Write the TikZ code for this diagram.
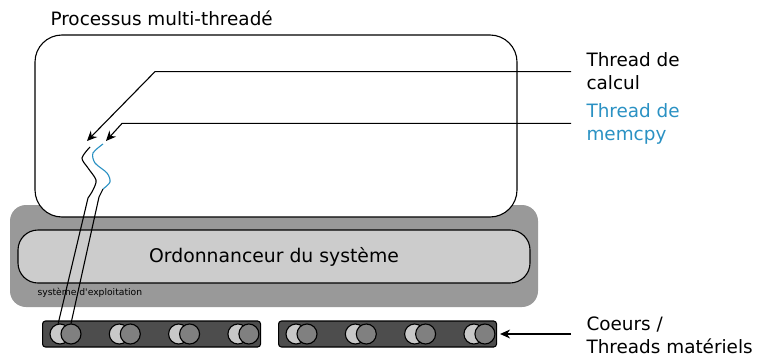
\documentclass[tikz,border=0pt]{standalone}
\usepackage{fontspec}
\setmainfont{DejaVu Sans}
\usetikzlibrary{arrows.meta,positioning}
\definecolor{osgray}{RGB}{153,153,153}
\definecolor{schedgray}{RGB}{204,204,204}
\definecolor{bargray}{RGB}{77,77,77}
\definecolor{hwlight}{RGB}{200,200,200}
\definecolor{hwdark}{RGB}{128,128,128}
\definecolor{memblue}{RGB}{42,145,195}
\newcommand{\lblfont}{\fontsize{9.2}{11.5}\selectfont}

\begin{document}
\begin{tikzpicture}[x=0.5pt, y=-0.5pt, font=\lblfont, line width=0.55pt,
  corebar/.style={draw, fill=bargray, rounded corners=1.5pt, minimum width=109pt, minimum height=13pt, inner sep=0pt},
  hwl/.style={circle, draw, fill=hwlight, minimum size=10pt, inner sep=0pt},
  hwd/.style={circle, draw, fill=hwdark, minimum size=10pt, inner sep=0pt},
  callout/.style={->, >={Stealth[length=5pt,width=4.5pt]}},
  sidetext/.style={anchor=base west, align=left, inner sep=0pt}]
  \useasboundingbox (0,0) rectangle (758,358);

  % Systeme d'exploitation
  \draw[draw=none, fill=osgray, rounded corners=8pt] (10,205) rectangle (538,307);
  \node[anchor=base west, inner sep=0pt, font=\fontsize{4.6}{5.5}\selectfont] (os) at (37,295) {système d\textquotesingle exploitation};
  % Processus
  \draw[fill=white, rounded corners=13.5pt] (35,35) rectangle (517,217);
  \node[anchor=base west, inner sep=0pt] (proc) at (50,26) {Processus multi-threadé};
  \node[draw, fill=schedgray, rounded corners=10pt, minimum width=256pt, minimum height=26.5pt, font=\fontsize{9.4}{11.5}\selectfont] (sched) at (274,256.5) {Ordonnanceur du système};

  % Coeurs
  \foreach \b/\bx in {1/42,2/278} {
    \node[corebar, anchor=west] (bar\b) at (\bx,334) {};
    \foreach \i in {0,...,3} {
      \node[hwl] (l-\b-\i) at (\bx+18+59.3*\i,334) {};
      \node[hwd] (d-\b-\i) at (\bx+29+59.3*\i,334) {};
    }
  }

  % Legendes (ancre sur la derniere ligne)
  \node[sidetext] (calcul) at (586,90) {Thread de\\calcul};
  \node[sidetext, text=memblue] (memcpy) at (586,140) {Thread de\\memcpy};
  \node[sidetext] (coeurs) at (586,353) {Coeurs /\\Threads matériels};

  \coordinate (tipcalc) at (87,141);
  \coordinate (tipmem) at (106,141);
  \draw[callout] ([xshift=-7.5pt]calcul.west) -- ++(-416,0) -- (tipcalc);
  \draw[callout] ([xshift=-7.5pt]memcpy.west) -- ++(-449,0) -- (tipmem);
  \draw[callout] ([xshift=-7.5pt]coeurs.west |- bar2.east) -- ([xshift=1.5pt]bar2.east);

  % Threads
  \draw plot[smooth] coordinates {(90,147) (82,158) (88,168) (96,180) (93,190) (88,198)} -- (l-1-0.100);
  \coordinate (memjoin) at (103,189);
  \draw[memblue] plot[smooth] coordinates {(103,144) (93,153) (95,163) (107,173) (110,182) (memjoin)};
  \draw (memjoin) -- (99,197) -- (d-1-0.north);
\end{tikzpicture}
\end{document}
